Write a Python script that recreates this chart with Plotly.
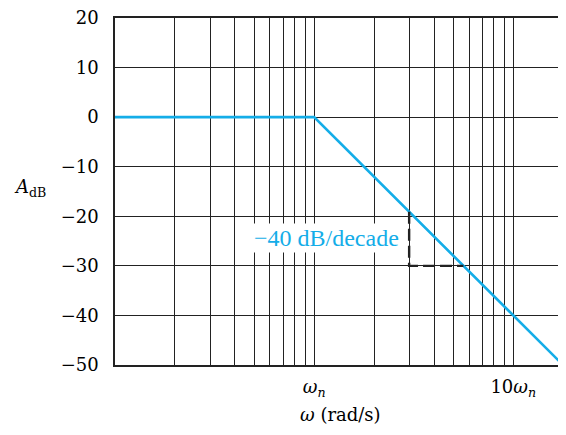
import plotly.graph_objects as go
import math

# Data (frequencies in units of omega_n)
line_w = [0.1, 1.0, 17.78]
line_db = [0.0, 0.0, -50.0]

dash_w = [3.0, 3.0, 5.62]
dash_db = [-40 * math.log10(3.0), -30.0, -30.0]

grid_x = [0.2, 0.3, 0.4, 0.5, 0.6, 0.7, 0.8, 0.9,
          2, 3, 4, 5, 6, 7, 8, 9]
major_x = [1, 10]
major_x_text = ["<i>ω</i><sub><i>n</i></sub>", "10<i>ω</i><sub><i>n</i></sub>"]
y_ticks = [20, 10, 0, -10, -20, -30, -40, -50]

CYAN = "#14ADE8"
GRID = "#222222"
SERIF = "Liberation Serif"
AXFONT = "DejaVu Serif"

fig = go.Figure()
fig.add_trace(go.Scatter(x=line_w, y=line_db, mode="lines",
                         line=dict(color=CYAN, width=2.6), hoverinfo="skip"))
fig.add_trace(go.Scatter(x=dash_w, y=dash_db, mode="lines",
                         line=dict(color="#222222", width=2.4, dash="12px,5px"),
                         hoverinfo="skip"))

fig.update_layout(
    width=558, height=427,
    margin=dict(l=107, r=0, t=10, b=70),
    paper_bgcolor="white", plot_bgcolor="white",
    showlegend=False,
    font=dict(family=AXFONT, size=18, color="black"),
    xaxis=dict(
        type="log", range=[-1, math.log10(18.4)],
        tickmode="array", tickvals=major_x, ticktext=major_x_text,
        showgrid=True, gridcolor=GRID, gridwidth=1.3,
        showline=True, linecolor=GRID, linewidth=1.5, mirror=True,
        ticks="", zeroline=False,
        tickfont=dict(family=AXFONT, size=18),
        ticklabelstandoff=5,
        ticklabeloverflow="allow",
        minor=dict(tickmode="array", tickvals=grid_x, showgrid=True,
                   gridcolor=GRID, gridwidth=1.3, ticks=""),
    ),
    yaxis=dict(
        range=[-50, 20], tickmode="array", tickvals=y_ticks,
        showgrid=True, gridcolor=GRID, gridwidth=1.3,
        showline=True, linecolor=GRID, linewidth=1.5,
        ticks="", zeroline=False,
        tickfont=dict(family=AXFONT, size=18),
        ticklabelstandoff=11,
        ticklabeloverflow="allow",
    ),
    annotations=[
        dict(text="<i>A</i><sub>dB</sub>", xref="paper", yref="y",
             x=-0.228, xanchor="left", y=-14.2, showarrow=False,
             font=dict(family=AXFONT, size=18, color="black")),
        dict(text="<i>ω</i> (rad/s)", xref="paper", yref="paper",
             x=0.5, y=-0.142, yanchor="middle", showarrow=False,
             font=dict(family=AXFONT, size=18, color="black")),
        dict(text="−40 dB/decade", xref="x", yref="y",
             x=math.log10(1.16), y=-24.4, showarrow=False,
             bgcolor="white", borderpad=1,
             font=dict(family=SERIF, size=24, color=CYAN)),
    ],
)

fig.write_html("out.html")
